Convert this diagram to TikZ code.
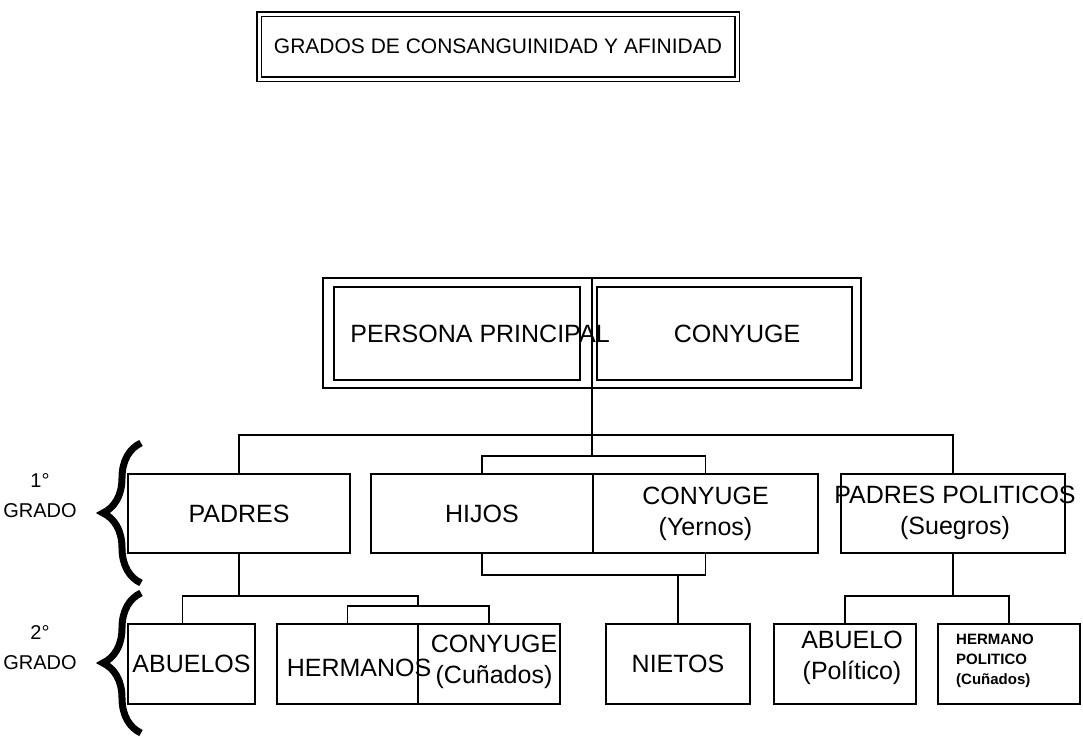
\documentclass[tikz,border=0pt]{standalone}
\usepackage{fontspec}
\setmainfont{Liberation Sans}
\usetikzlibrary{positioning,decorations.pathreplacing}

\begin{document}
\begin{tikzpicture}[x=1pt, y=-1pt,
      box/.style={rectangle, draw=black, line width=2.4pt, inner sep=2pt,
                  align=center, font=\fontsize{25}{31}\selectfont},
      lbl/.style={inner sep=0pt, align=center, font=\fontsize{25}{31}\selectfont},
      link/.style={line width=1.5pt},
      grado/.style={decorate, decoration={brace, amplitude=38pt}, line width=7pt}
    ]
      \useasboundingbox (0,0) rectangle (1083,736);
      % title
      \node[rectangle, draw=black, double, double distance=3pt, line width=1.4pt,
            minimum width=478pt, minimum height=65pt, font=\fontsize{21}{25}\selectfont]
            (title) at (498,46.5) {GRADOS DE CONSANGUINIDAD Y AFINIDAD};
      % persona principal y conyuge
      \node[box, minimum width=538pt, minimum height=110pt] (pp) at (592,333) {};
      \node[box, minimum width=246pt, minimum height=93pt] (ppl) at (457,333.5) {};
      \node[box, minimum width=255pt, minimum height=93pt] (ppr) at (724.5,333.5) {};
      \node[lbl] (pptxt) at (480,334) {PERSONA PRINCIPAL};
      \node[lbl] (cytxt) at (737,334) {CONYUGE};
      % 1er grado
      \node[box, minimum width=222pt, minimum height=79pt] (padres) at (239,513.5) {PADRES};
      \node[box, minimum width=222pt, minimum height=79pt] (hijos) at (482,513.5) {HIJOS};
      \node[box, minimum width=225pt, minimum height=79pt] (conyY) at (705.5,513.5) {CONYUGE\\(Yernos)};
      \node[box, minimum width=224pt, minimum height=79pt] (padpol) at (953,513.5) {};
      \node[lbl] (padpoltxt) at (955,513) {PADRES POLITICOS\\(Suegros)};
      % 2o grado
      \node[box, minimum width=127pt, minimum height=80pt] (abuelos) at (191.5,664) {ABUELOS};
      \node[box, minimum width=141pt, minimum height=80pt] (hermanos) at (347.5,664) {};
      \node[box, minimum width=142pt, minimum height=80pt] (conyC) at (489,664) {};
      \node[lbl] (hermtxt) at (359,668) {HERMANOS};
      \node[lbl] (conyCtxt) at (494,662) {CONYUGE\\(Cuñados)};
      \node[box, minimum width=144pt, minimum height=80pt] (nietos) at (678,664) {NIETOS};
      \node[box, minimum width=142pt, minimum height=80pt] (abuelop) at (845,664) {};
      \node[lbl] (abuelotxt) at (852,658) {ABUELO\\(Político)};
      \node[box, minimum width=142pt, minimum height=80pt] (hermpol) at (1009,664) {};
      \node[lbl, anchor=west, align=left, font=\fontsize{15}{20}\selectfont\bfseries]
            (hermpoltxt) at (956,661) {HERMANO\\POLITICO\\(Cuñados)};
      % grados
      \node[lbl, font=\fontsize{20}{30}\selectfont] (g1) at (40,496) {1°\\GRADO};
      \node[lbl, font=\fontsize{20}{30}\selectfont] (g2) at (40,648) {2°\\GRADO};
      \draw[grado] (141,583) -- (141,443);
      \draw[grado] (141,733) -- (141,593);
      % lineas
      \coordinate (b0) at (592,435);
      \coordinate (b1) at (592,456);
      \coordinate (b2) at (678,575);
      \coordinate (b3) at (239,596);
      \coordinate (b4) at (418,606);
      \coordinate (b5) at (953,596);
      \draw[link] (pp.north) -- (b1);
      \draw[link] (padres.north) |- (b0) -| (padpol.north);
      \draw[link] (hijos.north) |- (b1) -| (conyY.north);
      \draw[link] (hijos.south) |- (b2) -| (conyY.south);
      \draw[link] (b2) -- (nietos.north);
      \draw[link] (padres.south) -- (b3);
      \draw[link] ([xshift=-9pt]abuelos.north) |- (b3) -| (b4);
      \draw[link] (hermanos.north) |- (b4) -| (conyC.north);
      \draw[link] (padpol.south) -- (b5);
      \draw[link] (abuelop.north) |- (b5) -| (hermpol.north);
    \end{tikzpicture}
\end{document}
